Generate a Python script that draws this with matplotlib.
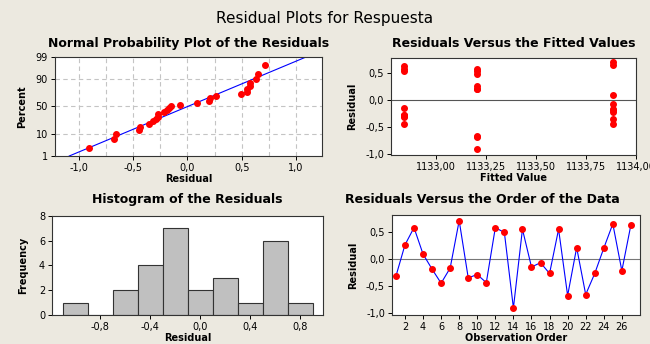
import numpy as np
import matplotlib
matplotlib.use("Agg")
import matplotlib.pyplot as plt
from statistics import NormalDist

# residuals in observation order
residuals = np.array([-0.32, 0.26, 0.58, 0.09, -0.19, -0.45, -0.17, 0.71, -0.35,
                      -0.29, -0.44, 0.58, 0.49, -0.91, 0.55, -0.15, -0.07, -0.27,
                      0.55, -0.68, 0.21, -0.66, -0.27, 0.20, 0.65, -0.22, 0.63])
# fitted value for each observation
fitted = np.array([1132.84, 1133.205, 1132.84, 1133.885, 1133.885, 1133.885, 1133.885, 1133.885, 1133.885,
                   1132.84, 1132.84, 1133.205, 1133.205, 1133.205, 1132.84, 1132.84, 1133.885, 1132.84,
                   1133.205, 1133.205, 1133.205, 1133.205, 1132.84, 1133.205, 1133.885, 1133.885, 1132.84])
order = np.arange(1, len(residuals) + 1)
hist_edges = np.arange(-1.1, 0.95, 0.2)
pct_ticks = [1, 10, 50, 90, 99]

bg = '#ECE9E0'
red = '#FF0000'
blue = '#0000FF'
tick_fs = 7
lab_fs = 7
title_fs = 9
ms = 4

nd = NormalDist()

fig = plt.figure(figsize=(6.5, 3.44), dpi=100, facecolor=bg)
fig.text(0.5, 0.946, 'Residual Plots for Respuesta', ha='center', va='center', fontsize=11)


def style(ax):
    ax.set_facecolor('white')
    for s in ax.spines.values():
        s.set_linewidth(0.8)
        s.set_color('#333333')
    ax.tick_params(labelsize=tick_fs, length=3, width=0.7, pad=2)


def comma(v, fmt):
    return (fmt % v).replace('.', ',')


##############################
# normal probability plot
ax1 = fig.add_axes([0.0846, 0.5465, 0.411, 0.288])
style(ax1)
n = len(residuals)
srt = np.sort(residuals)
probs = (np.arange(1, n + 1) - 0.3) / (n + 0.4)
zs = np.array([nd.inv_cdf(p) for p in probs])
mu = residuals.mean()
sd = residuals.std(ddof=1)
z_lo, z_hi = nd.inv_cdf(0.01), nd.inv_cdf(0.99)
ax1.plot([mu + sd * z_lo, mu + sd * z_hi], [z_lo, z_hi], color=blue, lw=0.8, zorder=2)
ax1.plot(srt, zs, 'o', color=red, ms=ms, zorder=3)
ax1.set_xlim(-1.22, 1.24)
ax1.set_ylim(z_lo, z_hi)
xt = [-1.0, -0.5, 0.0, 0.5, 1.0]
ax1.set_xticks(xt)
ax1.set_xticklabels([comma(v, '%.1f') for v in xt])
ax1.set_xticks(np.arange(-1.0, 1.01, 0.25), minor=True)
ax1.tick_params(axis='x', which='minor', length=0)
ax1.set_yticks([nd.inv_cdf(p / 100) for p in pct_ticks])
ax1.set_yticklabels([str(p) for p in pct_ticks])
ax1.grid(True, which='both', axis='x', ls=(0, (4, 3)), color='#C4C4C4', lw=0.8)
for p in [10, 50, 90]:
    ax1.axhline(nd.inv_cdf(p / 100), ls=(0, (4, 3)), color='#C4C4C4', lw=0.8, zorder=1)
ax1.set_axisbelow(True)
ax1.set_xlabel('Residual', fontsize=lab_fs, fontweight='bold', labelpad=1)
ax1.set_ylabel('Percent', fontsize=lab_fs, fontweight='bold', labelpad=6)
ax1.set_title('Normal Probability Plot of the Residuals', fontsize=title_fs, fontweight='bold', pad=7)

##############################
# residuals vs fitted
ax2 = fig.add_axes([0.6015, 0.549, 0.377, 0.282])
style(ax2)
ax2.axhline(0, color='#555555', lw=0.8, zorder=1)
ax2.plot(fitted, residuals, 'o', color=red, ms=ms, zorder=3)
ax2.set_xlim(1132.775, 1134.0)
ax2.set_ylim(-1.02, 0.78)
xt2 = [1133.0, 1133.25, 1133.5, 1133.75, 1134.0]
ax2.set_xticks(xt2)
ax2.set_xticklabels([comma(v, '%.2f') for v in xt2])
yt = [-1.0, -0.5, 0.0, 0.5]
ax2.set_yticks(yt)
ax2.set_yticklabels([comma(v, '%.1f') for v in yt])
ax2.set_xlabel('Fitted Value', fontsize=lab_fs, fontweight='bold', labelpad=1)
ax2.set_ylabel('Residual', fontsize=lab_fs, fontweight='bold', labelpad=6)
ax2.set_title('Residuals Versus the Fitted Values', fontsize=title_fs, fontweight='bold', pad=8)

##############################
# histogram
ax3 = fig.add_axes([0.08, 0.0843, 0.417, 0.288])
style(ax3)
ax3.hist(residuals, bins=hist_edges, color='#C0C0C0', edgecolor='#333333', linewidth=0.8)
ax3.set_xlim(-1.184, 0.984)
ax3.set_ylim(0, 8)
xt3 = [-0.8, -0.4, 0.0, 0.4, 0.8]
ax3.set_xticks(xt3)
ax3.set_xticklabels([comma(v, '%.1f') for v in xt3])
ax3.set_yticks([0, 2, 4, 6, 8])
ax3.set_xlabel('Residual', fontsize=lab_fs, fontweight='bold', labelpad=1)
ax3.set_ylabel('Frequency', fontsize=lab_fs, fontweight='bold', labelpad=8)
ax3.set_title('Histogram of the Residuals', fontsize=title_fs, fontweight='bold', pad=9)

##############################
# residuals vs order
ax4 = fig.add_axes([0.603, 0.0843, 0.3815, 0.29])
style(ax4)
ax4.axhline(0, color='#777777', lw=0.8, zorder=1)
ax4.plot(order, residuals, '-', color=blue, lw=0.8, zorder=2)
ax4.plot(order, residuals, 'o', color=red, ms=ms, zorder=3)
ax4.set_xlim(0.56, 28.0)
ax4.set_ylim(-1.04, 0.81)
ax4.set_xticks(np.arange(2, 27, 2))
ax4.set_yticks(yt)
ax4.set_yticklabels([comma(v, '%.1f') for v in yt])
ax4.set_xlabel('Observation Order', fontsize=lab_fs, fontweight='bold', labelpad=1)
ax4.set_ylabel('Residual', fontsize=lab_fs, fontweight='bold', labelpad=6)
ax4.set_title('Residuals Versus the Order of the Data', fontsize=title_fs, fontweight='bold', pad=9,
              loc='left', x=-0.19)

fig.savefig('out.png', dpi=100, facecolor=bg)
